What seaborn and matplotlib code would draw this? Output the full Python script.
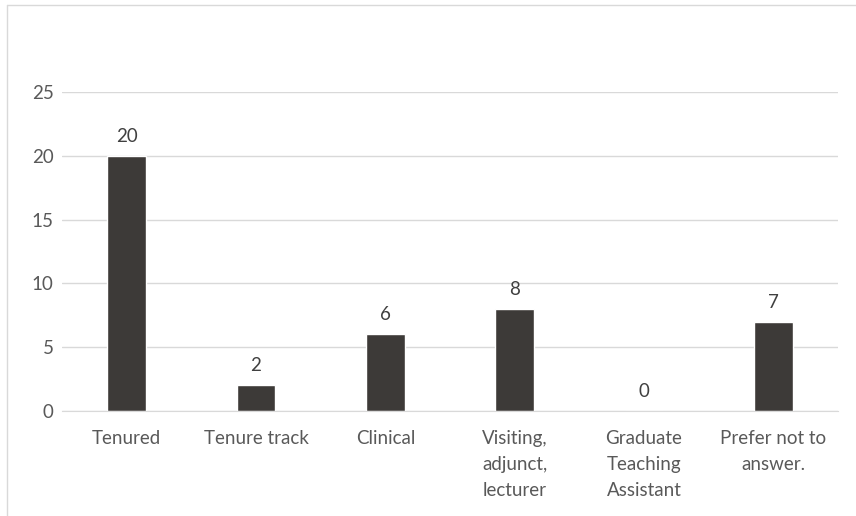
import matplotlib
matplotlib.use("Agg")
import matplotlib.pyplot as plt
import seaborn as sns
import pandas as pd
from matplotlib.lines import Line2D

categories = ["Tenured", "Tenure track", "Clinical", "Visiting,\nadjunct,\nlecturer",
              "Graduate\nTeaching\nAssistant", "Prefer not to\nanswer."]
counts = [20, 2, 6, 8, 0, 7]
y_ticks = [0, 5, 10, 15, 20, 25]

df = pd.DataFrame({"category": categories, "count": counts})

sns.set_style("white")
plt.rcParams["font.family"] = ["Lato", "DejaVu Sans"]

fig = plt.figure(figsize=(8.56, 5.16), dpi=100)
ax = fig.add_axes([0.0724, 0.2035, 0.9066, 0.6182])

sns.barplot(data=df, x="category", y="count", color="#3d3a38", width=0.3,
            saturation=1, ax=ax, zorder=3)

ax.set_ylim(0, 25)
ax.set_yticks(y_ticks)
ax.set_xlim(-0.5, len(categories) - 0.5)
ax.grid(axis="y", color="#d9d9d9", linewidth=1, zorder=0)
for s in ["top", "right", "left"]:
    ax.spines[s].set_visible(False)
ax.spines["bottom"].set_color("#d9d9d9")
ax.spines["bottom"].set_zorder(4)
ax.set_xlabel("")
ax.set_ylabel("")
ax.tick_params(axis="both", length=0, labelsize=13.5, labelcolor="#595959")
ax.tick_params(axis="x", pad=14)
ax.tick_params(axis="y", pad=6)
for lbl in ax.get_xticklabels():
    lbl.set_linespacing(1.62)

for i, v in enumerate(counts):
    ax.annotate(str(v), (i, v), xytext=(0, 8), textcoords="offset points",
                ha="center", va="bottom", fontsize=13.5, color="#404040")

# chart-area border (top and left visible in the crop)
fig.add_artist(Line2D([0.008, 1.0], [0.99, 0.99], transform=fig.transFigure,
                      color="#d9d9d9", linewidth=1))
fig.add_artist(Line2D([0.008, 0.008], [0.0, 0.99], transform=fig.transFigure,
                      color="#d9d9d9", linewidth=1))

fig.savefig("out.png", dpi=100)
